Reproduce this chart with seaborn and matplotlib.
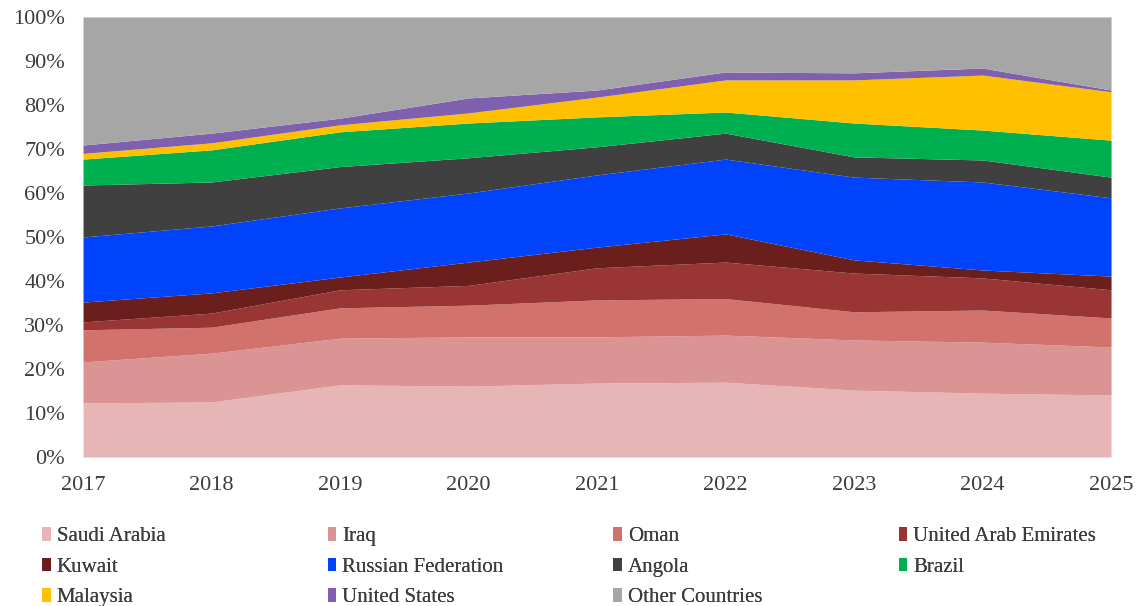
import matplotlib
matplotlib.use("Agg")
import matplotlib.pyplot as plt
from matplotlib.patches import Patch
from matplotlib.ticker import PercentFormatter
import numpy as np
import seaborn as sns

# Share of crude supply by origin, percent of total per year
years = [2017, 2018, 2019, 2020, 2021, 2022, 2023, 2024, 2025]

saudi_arabia = [12.3, 12.5, 16.4, 16.1, 16.8, 17.0, 15.2, 14.5, 14.1]
iraq = [9.3, 11.1, 10.6, 11.2, 10.5, 10.7, 11.4, 11.6, 10.9]
oman = [7.3, 5.9, 6.9, 7.2, 8.4, 8.3, 6.4, 7.3, 6.6]
uae = [1.8, 3.2, 4.1, 4.5, 7.3, 8.3, 8.8, 7.3, 6.4]
kuwait = [4.5, 4.6, 2.9, 5.3, 4.7, 6.4, 3.0, 1.8, 3.1]
russia = [14.8, 15.2, 15.7, 15.7, 16.4, 17.0, 18.8, 20.0, 17.8]
angola = [11.8, 10.0, 9.4, 8.0, 6.4, 5.9, 4.6, 5.0, 4.7]
brazil = [5.9, 7.3, 7.9, 7.9, 6.8, 4.8, 7.7, 6.8, 8.4]
malaysia = [1.3, 1.6, 1.6, 2.3, 4.5, 7.3, 9.8, 12.5, 11.0]
united_states = [1.9, 2.2, 1.5, 3.4, 1.6, 1.8, 1.6, 1.6, 0.4]
other_countries = [29.1, 26.4, 23.0, 18.4, 16.6, 12.5, 12.7, 11.6, 16.6]

series_names = ["Saudi Arabia", "Iraq", "Oman", "United Arab Emirates", "Kuwait",
                "Russian Federation", "Angola", "Brazil", "Malaysia",
                "United States", "Other Countries"]
series_values = [saudi_arabia, iraq, oman, uae, kuwait, russia, angola, brazil,
                 malaysia, united_states, other_countries]
series_colors = ["#E7B5B5", "#DA9494", "#D2726D", "#9A3535", "#6B1F1C",
                 "#0043FA", "#404040", "#00AF50", "#FFC000", "#7E60AE", "#A6A6A6"]

sns.set_style("white")
plt.rcParams["font.family"] = ["Liberation Serif", "DejaVu Serif"]

fig = plt.figure(figsize=(11.42, 6.06), dpi=100)
ax = fig.add_axes([0.0727, 0.2459, 0.9002, 0.7261])

ax.stackplot(years, *[np.array(v) for v in series_values],
             colors=series_colors, linewidth=0)

ax.set_xlim(years[0], years[-1])
ax.set_ylim(0, 100)
ax.set_xticks(years)
ax.set_yticks(np.arange(0, 101, 10))
ax.yaxis.set_major_formatter(PercentFormatter(100, decimals=0))
ax.tick_params(axis="both", labelsize=16, colors="#3C3C3C", length=0)
ax.tick_params(axis="x", pad=14)
ax.tick_params(axis="y", pad=13)
for s in ax.spines.values():
    s.set_visible(False)

# Legend laid out as four evenly spaced columns, filled row by row
ncols = 4
col_x = [0.037, 0.287, 0.537, 0.787]
for c in range(ncols):
    idx = list(range(c, len(series_names), ncols))
    handles = [Patch(facecolor=series_colors[i], edgecolor="none") for i in idx]
    labels = [series_names[i] for i in idx]
    leg = fig.legend(handles, labels, loc="upper left",
                     bbox_to_anchor=(col_x[c], 0.13), frameon=False,
                     fontsize=15, handlelength=0.4, handleheight=0.65,
                     handletextpad=0.3, labelspacing=0.53,
                     borderaxespad=0, borderpad=0, labelcolor="#3C3C3C")
    fig.add_artist(leg)

fig.savefig("out.png", dpi=100)
